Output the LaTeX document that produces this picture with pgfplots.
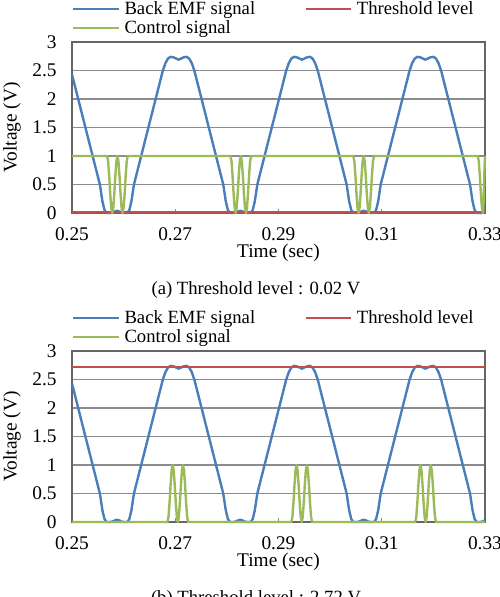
\documentclass[border=0pt]{standalone}
\usepackage{fontspec}
\setmainfont{Liberation Serif}
\usepackage{pgfplots}
\usepackage{pgfplotstable}
\pgfplotsset{compat=1.18}

\definecolor{emfblue}{HTML}{4A7EBB}
\definecolor{thrred}{HTML}{C0504D}
\definecolor{ctlgreen}{HTML}{9BBB59}
\definecolor{gridgray}{HTML}{8C8C8C}

% back EMF, same in both panels
\pgfplotstableread{
t v
0.25 2.43
0.2512 2.0
0.2526 1.5
0.2540 1.0
0.2554 0.5
0.2559 0.2
0.2563 0.05
0.2567 0.0
0.2572 0.0
0.2577 0.003
0.2582 0.025
0.2587 0.04
0.2592 0.025
0.2597 0.003
0.2602 0
0.2607 0
0.2611 0.05
0.2615 0.2
0.2620 0.5
0.2634 1.0
0.2648 1.5
0.2662 2.0
0.2676 2.5
0.2681 2.63
0.2686 2.71
0.2691 2.74
0.2697 2.73
0.27065 2.69
0.2716 2.73
0.2722 2.74
0.2727 2.71
0.2732 2.63
0.2737 2.5
0.2751 2.0
0.2765 1.5
0.2779 1.0
0.2793 0.5
0.2798 0.2
0.2802 0.05
0.2806 0.0
0.2811 0.0
0.2816 0.003
0.2821 0.025
0.2826 0.04
0.2831 0.025
0.2836 0.003
0.2841 0
0.2846 0
0.2850 0.05
0.2854 0.2
0.2859 0.5
0.2873 1.0
0.2887 1.5
0.2901 2.0
0.2915 2.5
0.2920 2.63
0.2925 2.71
0.2930 2.74
0.2936 2.73
0.29455 2.69
0.2955 2.73
0.2961 2.74
0.2966 2.71
0.2971 2.63
0.2976 2.5
0.2990 2.0
0.3004 1.5
0.3018 1.0
0.3032 0.5
0.3037 0.2
0.3041 0.05
0.3045 0
0.3050 0
0.3055 0.003
0.3060 0.025
0.3065 0.04
0.3070 0.025
0.3075 0.003
0.3080 0
0.3085 0
0.3089 0.05
0.3093 0.2
0.3098 0.5
0.3112 1.0
0.3126 1.5
0.3140 2.0
0.3154 2.5
0.3159 2.63
0.3164 2.71
0.3169 2.74
0.3175 2.73
0.31845 2.69
0.3194 2.73
0.3200 2.74
0.3205 2.71
0.3210 2.63
0.3215 2.5
0.3229 2.0
0.3243 1.5
0.3257 1.0
0.3271 0.5
0.3276 0.2
0.3280 0.05
0.3284 0
0.3289 0
0.3294 0.003
0.3299 0.025
0.3300 0.03
}\emf

% control signal, threshold 0.02 V
\pgfplotstableread{
t v
0.25 1
0.2568 1
0.2570 0.905
0.2572 0.655
0.2574 0.345
0.2576 0.095
0.2578 0
0.2580 0.095
0.2582 0.345
0.2584 0.655
0.2586 0.905
0.2588 1
0.2590 0.905
0.2592 0.655
0.2594 0.345
0.2596 0.095
0.2598 0
0.2600 0.095
0.2602 0.345
0.2604 0.655
0.2606 0.905
0.2608 1
0.2807 1
0.2809 0.905
0.2811 0.655
0.2813 0.345
0.2815 0.095
0.2817 0
0.2819 0.095
0.2821 0.345
0.2823 0.655
0.2825 0.905
0.2827 1
0.2829 0.905
0.2831 0.655
0.2833 0.345
0.2835 0.095
0.2837 0
0.2839 0.095
0.2841 0.345
0.2843 0.655
0.2845 0.905
0.2847 1
0.3045 1
0.3047 0.905
0.3049 0.655
0.3051 0.345
0.3053 0.095
0.3055 0
0.3057 0.095
0.3059 0.345
0.3061 0.655
0.3063 0.905
0.3065 1
0.3067 0.905
0.3069 0.655
0.3071 0.345
0.3073 0.095
0.3075 0
0.3077 0.095
0.3079 0.345
0.3081 0.655
0.3083 0.905
0.3085 1
0.3286 1
0.3288 0.905
0.3290 0.655
0.3292 0.345
0.3294 0.095
0.3296 0
0.3297 0.1
0.3298 0.4
0.3299 0.75
0.3300 1
}\ctla

% control signal, threshold 2.72 V
\pgfplotstableread{
t v
0.25 0
0.2685 0
0.2687 0.095
0.2689 0.345
0.2691 0.655
0.2693 0.905
0.2695 1
0.2697 0.905
0.2699 0.655
0.2701 0.345
0.2703 0.095
0.2705 0
0.2707 0.095
0.2709 0.345
0.2711 0.655
0.2713 0.905
0.2715 1
0.2717 0.905
0.2719 0.655
0.2721 0.345
0.2723 0.095
0.2725 0
0.2925 0
0.2927 0.095
0.2929 0.345
0.2931 0.655
0.2933 0.905
0.2935 1
0.2937 0.905
0.2939 0.655
0.2941 0.345
0.2943 0.095
0.2945 0
0.2947 0.095
0.2949 0.345
0.2951 0.655
0.2953 0.905
0.2955 1
0.2957 0.905
0.2959 0.655
0.2961 0.345
0.2963 0.095
0.2965 0
0.3165 0
0.3167 0.095
0.3169 0.345
0.3171 0.655
0.3173 0.905
0.3175 1
0.3177 0.905
0.3179 0.655
0.3181 0.345
0.3183 0.095
0.3185 0
0.3187 0.095
0.3189 0.345
0.3191 0.655
0.3193 0.905
0.3195 1
0.3197 0.905
0.3199 0.655
0.3201 0.345
0.3203 0.095
0.3205 0
0.3300 0
}\ctlb

\pgfplotsset{
  panel/.style={
    width=309.75pt, height=128.25pt, scale only axis,
    anchor=north west, clip=false,
    font=\fontsize{14.5}{16}\selectfont,
    xmin=0.25, xmax=0.33, ymin=0, ymax=3,
    xtick={0.25,0.27,0.29,0.31,0.33},
    xticklabels={0.25,0.27,0.29,0.31,0.33},
    ytick={0,0.5,1,1.5,2,2.5,3},
    yticklabels={0,0.5,1,1.5,2,2.5,3},
    xtick pos=bottom, ytick pos=left,
    tick align=inside,
    major tick length=3pt,
    xtick style={draw=gridgray, line width=0.8pt},
    ytick style={draw=none},
    xticklabel style={yshift=-7.5pt},
    yticklabel style={xshift=-8pt},
    ymajorgrids,
    grid style={draw=gridgray, line width=1.1pt},
    axis line style={draw=gray!80!black, line width=0.9pt},
    xlabel={Time (sec)}, ylabel={Voltage (V)},
    every axis x label/.style={at={(axis description cs:0.5,-0.235)}, anchor=center, inner sep=0.5pt},
    every axis y label/.style={at={(axis description cs:-0.145,0.5)}, anchor=center, rotate=90},
    legend columns=2,
    legend cell align=left,
    legend image code/.code={\draw[#1] (0pt,0pt) -- (34pt,0pt); \path (35.5pt,0pt);},
    legend style={draw=none, fill=none, at={(axis description cs:-0.01,1.27)}, anchor=north west,
      font=\fontsize{14}{15}\selectfont, row sep=-1pt,
      /tikz/every even column/.append style={column sep=35pt}},
  },
  emf/.style={draw=emfblue, line width=1.8pt, line join=round},
  thr/.style={draw=thrred, line width=1.8pt},
  ctl/.style={draw=ctlgreen, line width=1.8pt, line join=round},
}

\begin{document}
\begin{tikzpicture}
\useasboundingbox (0pt,0pt) rectangle (375pt,-447.75pt);

\begin{axis}[panel, at={(54pt,-31.5pt)}]
\addplot[emf] table[x=t,y=v] {\emf};
\addlegendentry{Back EMF signal}
\addplot[thr] coordinates {(0.25,0.02) (0.33,0.02)};
\addlegendentry{Threshold level}
\addplot[ctl] table[x=t,y=v] {\ctla};
\addlegendentry{Control signal}
\end{axis}
\node[font=\fontsize{14}{16}\selectfont] at (192pt,-217.5pt) {(a) Threshold level : 0.02 V};

\begin{axis}[panel, at={(54pt,-263.25pt)}]
\addplot[emf] table[x=t,y=v] {\emf};
\addlegendentry{Back EMF signal}
\addplot[thr] coordinates {(0.25,2.72) (0.33,2.72)};
\addlegendentry{Threshold level}
\addplot[ctl] table[x=t,y=v] {\ctlb};
\addlegendentry{Control signal}
\end{axis}
\node[font=\fontsize{14}{16}\selectfont] at (192pt,-449.5pt) {(b) Threshold level : 2.72 V};
\end{tikzpicture}
\end{document}
